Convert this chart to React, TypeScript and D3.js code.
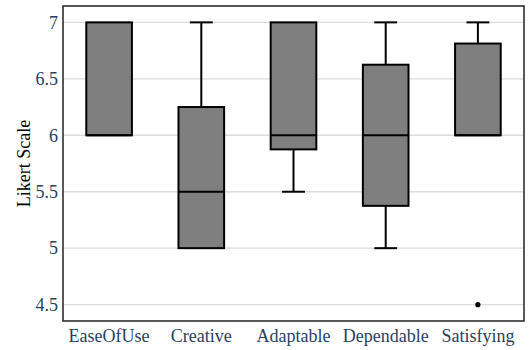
import React from "react";
import * as d3 from "d3";

const categories = ["EaseOfUse", "Creative", "Adaptable", "Dependable", "Satisfying"];
const q1Values = [6, 5, 5.875, 5.375, 6];
const medianValues = [6, 5.5, 6, 6, 6];
const q3Values = [7, 6.25, 7, 6.625, 6.8125];
const lowerWhisker = [6, 5, 5.5, 5, 6];
const upperWhisker = [7, 7, 7, 7, 7];
const outliers: [string, number][] = [["Satisfying", 4.5]];
const yTicks = [4.5, 5, 5.5, 6, 6.5, 7];

const W = 529, H = 350;
const M = { left: 63, right: 5, top: 6, bottom: 29 };

export default function App() {
  const x = d3.scaleBand<string>().domain(categories).range([M.left, W - M.right]).padding(0);
  const y = d3.scaleLinear().domain([4.355, 7.145]).range([H - M.bottom, M.top]);
  const bw = x.bandwidth() * 0.495;
  const cap = bw / 2;
  const font = "'Liberation Serif', 'Times New Roman', serif";
  return (
    <svg width={W} height={H} style={{ position: "absolute", left: 0, top: 0 }}>
      <rect x={0} y={0} width={W} height={H} fill="#fff" />
      {yTicks.map((t) => (
        <g key={t}>
          <line x1={M.left} x2={W - M.right} y1={y(t)} y2={y(t)} stroke="#dcdcdc" strokeWidth={1.3} />
          <text x={58} y={y(t)} dy="0.35em" textAnchor="end" fontFamily={font} fontSize={18} fill="#2a3f5f">
            {t}
          </text>
        </g>
      ))}
      {categories.map((c, i) => {
        const cx = x(c)! + x.bandwidth() / 2;
        return (
          <g key={c} stroke="#000" strokeWidth={2}>
            {upperWhisker[i] > q3Values[i] && (
              <>
                <line x1={cx} x2={cx} y1={y(q3Values[i])} y2={y(upperWhisker[i])} />
                <line x1={cx - cap / 2} x2={cx + cap / 2} y1={y(upperWhisker[i])} y2={y(upperWhisker[i])} />
              </>
            )}
            {lowerWhisker[i] < q1Values[i] && (
              <>
                <line x1={cx} x2={cx} y1={y(q1Values[i])} y2={y(lowerWhisker[i])} />
                <line x1={cx - cap / 2} x2={cx + cap / 2} y1={y(lowerWhisker[i])} y2={y(lowerWhisker[i])} />
              </>
            )}
            <rect
              x={cx - bw / 2}
              y={y(q3Values[i])}
              width={bw}
              height={y(q1Values[i]) - y(q3Values[i])}
              fill="#7f7f7f"
            />
            <line x1={cx - bw / 2} x2={cx + bw / 2} y1={y(medianValues[i])} y2={y(medianValues[i])} strokeWidth={2.2} />
            <text
              x={cx}
              y={342}
              textAnchor="middle"
              fontFamily={font}
              fontSize={18}
              fill="#2a3f5f"
              stroke="none"
            >
              {c}
            </text>
          </g>
        );
      })}
      {outliers.map(([c, v], i) => (
        <circle key={i} cx={x(c)! + x.bandwidth() / 2} cy={y(v)} r={2.6} fill="#000" />
      ))}
      <rect
        x={M.left}
        y={M.top}
        width={W - M.right - M.left}
        height={H - M.bottom - M.top}
        fill="none"
        stroke="#222"
        strokeWidth={1.5}
      />
      <text
        transform={`translate(24, ${(M.top + H - M.bottom) / 2}) rotate(-90)`}
        textAnchor="middle"
        dy="0.35em"
        fontFamily={font}
        fontSize={18}
        fill="#000"
      >
        Likert Scale
      </text>
    </svg>
  );
}
